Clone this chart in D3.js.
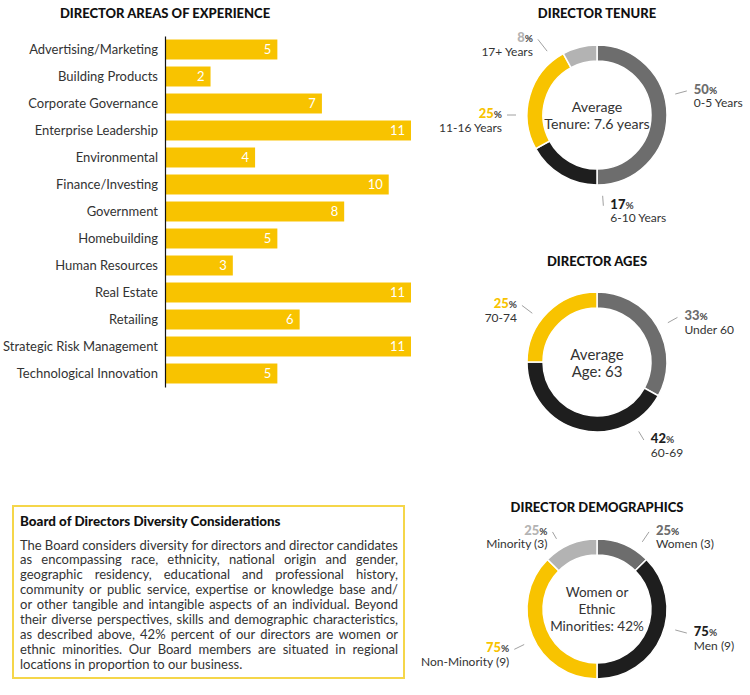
<!DOCTYPE html>
<html>
<head>
<meta charset="utf-8">
<script src="https://cdn.jsdelivr.net/npm/d3@7"></script>
<style>
  body { margin: 0; background: #fff; }
  svg { display: block; font-family: Lato, "Open Sans", sans-serif; }
  .title { font-weight: 900; font-size: 13px; fill: #111; text-anchor: middle; }
</style>
</head>
<body>
<div class="chart-container"></div>
<script>
// Data
const categories = [
  "Advertising/Marketing", "Building Products", "Corporate Governance",
  "Enterprise Leadership", "Environmental", "Finance/Investing", "Government",
  "Homebuilding", "Human Resources", "Real Estate", "Retailing",
  "Strategic Risk Management", "Technological Innovation"
];
const experienceCounts = [5, 2, 7, 11, 4, 10, 8, 5, 3, 11, 6, 11, 5];

const tenureLabels = ["0-5 Years", "6-10 Years", "11-16 Years", "17+ Years"];
const tenureValues = [50, 17, 25, 8];

const ageLabels = ["Under 60", "60-69", "70-74"];
const ageValues = [33, 42, 25];

const demoLabels = ["Women (3)", "Men (9)", "Non-Minority (9)", "Minority (3)"];
const demoCounts = [3, 9, 9, 3];
const demoPercents = [25, 75, 75, 25];

const bodyLines = [
  "The Board considers diversity for directors and director candidates",
  "as encompassing race, ethnicity, national origin and gender,",
  "geographic residency, educational and professional history,",
  "community or public service, expertise or knowledge base and/",
  "or other tangible and intangible aspects of an individual. Beyond",
  "their diverse perspectives, skills and demographic characteristics,",
  "as described above, 42% percent of our directors are women or",
  "ethnic minorities. Our Board members are situated in regional",
  "locations in proportion to our business."
];

// Setup
const W = 750, H = 695;
const yellow = "#f8c300", darkGrey = "#6d6d6d", black = "#1e1e1e", lightGrey = "#b3b3b3";

const svg = d3.select(".chart-container").append("svg")
  .attr("width", W).attr("height", H).attr("viewBox", [0, 0, W, H]);

// Bar chart
const x = d3.scaleLinear().domain([0, 11]).range([166, 411]);
const y = d3.scaleBand().domain(categories).range([36, 387])
  .paddingInner(0.26).paddingOuter(0.13);

svg.append("text").attr("class", "title").attr("x", 165).attr("y", 18)
  .text("DIRECTOR AREAS OF EXPERIENCE");

const gBars = svg.append("g");
gBars.selectAll("rect")
  .data(categories)
  .join("rect")
  .attr("x", x(0))
  .attr("y", d => y(d))
  .attr("width", (d, i) => x(experienceCounts[i]) - x(0))
  .attr("height", y.bandwidth())
  .attr("fill", yellow);

gBars.selectAll("text")
  .data(categories)
  .join("text")
  .attr("x", (d, i) => x(experienceCounts[i]) - 6)
  .attr("y", d => y(d) + y.bandwidth() / 2)
  .attr("dy", "0.36em")
  .attr("text-anchor", "end")
  .attr("fill", "#fff")
  .attr("font-size", 13)
  .text((d, i) => experienceCounts[i]);

svg.append("g")
  .attr("transform", `translate(${x(0) - 1},0)`)
  .call(d3.axisLeft(y).tickSize(0).tickSizeOuter(0).tickPadding(7))
  .call(g => g.select(".domain").attr("stroke", "#111").attr("stroke-width", 1.2))
  .call(g => g.selectAll(".tick text")
    .attr("font-family", "Lato, sans-serif")
    .attr("font-size", 13)
    .attr("fill", "#333"));

// Donuts
const outerR = 70, innerR = 54;
const arc = d3.arc().innerRadius(innerR).outerRadius(outerR);
const pie = d3.pie().sort(null).value(d => d);

function donut(opts) {
  const g = svg.append("g").attr("transform", `translate(${opts.cx},${opts.cy})`);
  svg.append("text").attr("class", "title")
    .attr("x", opts.cx).attr("y", opts.titleY).text(opts.title);

  g.selectAll("path")
    .data(pie(opts.values))
    .join("path")
    .attr("d", arc)
    .attr("fill", (d, i) => opts.colors[i])
    .attr("stroke", "#fff")
    .attr("stroke-width", 1.5);

  const center = g.append("text")
    .attr("text-anchor", "middle")
    .attr("font-size", opts.centerSize)
    .attr("fill", "#333");
  opts.center.forEach((line, i) => {
    center.append("tspan").attr("x", 0)
      .attr("y", opts.centerY0 + i * 17)
      .text(line);
  });

  opts.labels.forEach((label, i) => {
    const a = opts.angles[i] * Math.PI / 180;
    const r1 = 81, r2 = opts.r2[i];
    const sx = Math.sin(a), sy = -Math.cos(a);
    const ex = sx * r2, ey = sy * r2;
    g.append("line")
      .attr("x1", sx * r1).attr("y1", sy * r1)
      .attr("x2", ex).attr("y2", ey)
      .attr("stroke", "#888").attr("stroke-width", 0.8);
    const right = sx > 0;
    const tx = ex + (right ? 7 : -5);
    const t1 = g.append("text")
      .attr("text-anchor", right ? "start" : "end")
      .attr("x", tx).attr("y", ey + 3)
      .attr("fill", "#444");
    t1.append("tspan").attr("font-weight", 900).attr("font-size", 13)
      .attr("fill", opts.colors[i]).text(opts.percents[i]);
    t1.append("tspan").attr("font-size", 10).attr("font-weight", 700)
      .text("%");
    g.append("text")
      .attr("text-anchor", right ? "start" : "end")
      .attr("x", tx).attr("y", ey + 16.5)
      .attr("font-size", 12).attr("fill", "#333")
      .text(label);
  });
}

donut({
  cx: 597, cy: 115, titleY: 18, title: "DIRECTOR TENURE",
  values: tenureValues, percents: tenureValues, labels: tenureLabels,
  colors: [darkGrey, black, yellow, lightGrey],
  angles: [75, 176, 270, 322], r2: [93, 91, 90, 96],
  center: ["Average", "Tenure: 7.6 years"], centerY0: -3, centerSize: 14.2
});

donut({
  cx: 597, cy: 362, titleY: 266, title: "DIRECTOR AGES",
  values: ageValues, percents: ageValues, labels: ageLabels,
  colors: [darkGrey, black, yellow],
  angles: [61, 149, 307], r2: [92, 91, 94],
  center: ["Average", "Age: 63"], centerY0: -2, centerSize: 15
});

donut({
  cx: 597, cy: 609, titleY: 512, title: "DIRECTOR DEMOGRAPHICS",
  values: demoCounts, percents: demoPercents, labels: demoLabels,
  colors: [darkGrey, black, yellow, lightGrey],
  angles: [34, 105, 244, 330], r2: [93, 93, 92, 89],
  center: ["Women or", "Ethnic", "Minorities: 42%"], centerY0: -12, centerSize: 13.5
});

// Text box
const box = svg.append("g");
box.append("rect")
  .attr("x", 13).attr("y", 506).attr("width", 391).attr("height", 172)
  .attr("fill", "none").attr("stroke", "#f5d64a").attr("stroke-width", 2);
box.append("text")
  .attr("x", 20).attr("y", 526)
  .attr("font-weight", 900).attr("font-size", 13.4).attr("fill", "#111")
  .text("Board of Directors Diversity Considerations");

const textLeft = 20, textRight = 398;
// size the body font so the longest line just fits the box width
const probe = box.append("text").attr("font-size", 10).text(bodyLines[0]);
const bodySize = 10 * (textRight - textLeft) / probe.node().getComputedTextLength();
probe.remove();

bodyLines.forEach((line, i) => {
  const words = line.split(" ");
  const t = box.append("text")
    .attr("y", 549.5 + i * 14.9)
    .attr("font-size", bodySize)
    .attr("fill", "#333");
  const spans = words.map(w => t.append("tspan").text(w));
  const widths = spans.map(s => s.node().getComputedTextLength());
  const last = i === bodyLines.length - 1;
  let gap = (textRight - textLeft - d3.sum(widths)) / (words.length - 1);
  if (last) gap = bodySize * 0.25;
  let px = textLeft;
  spans.forEach((s, j) => {
    s.attr("x", px);
    px += widths[j] + gap;
  });
});
</script>
</body>
</html>
